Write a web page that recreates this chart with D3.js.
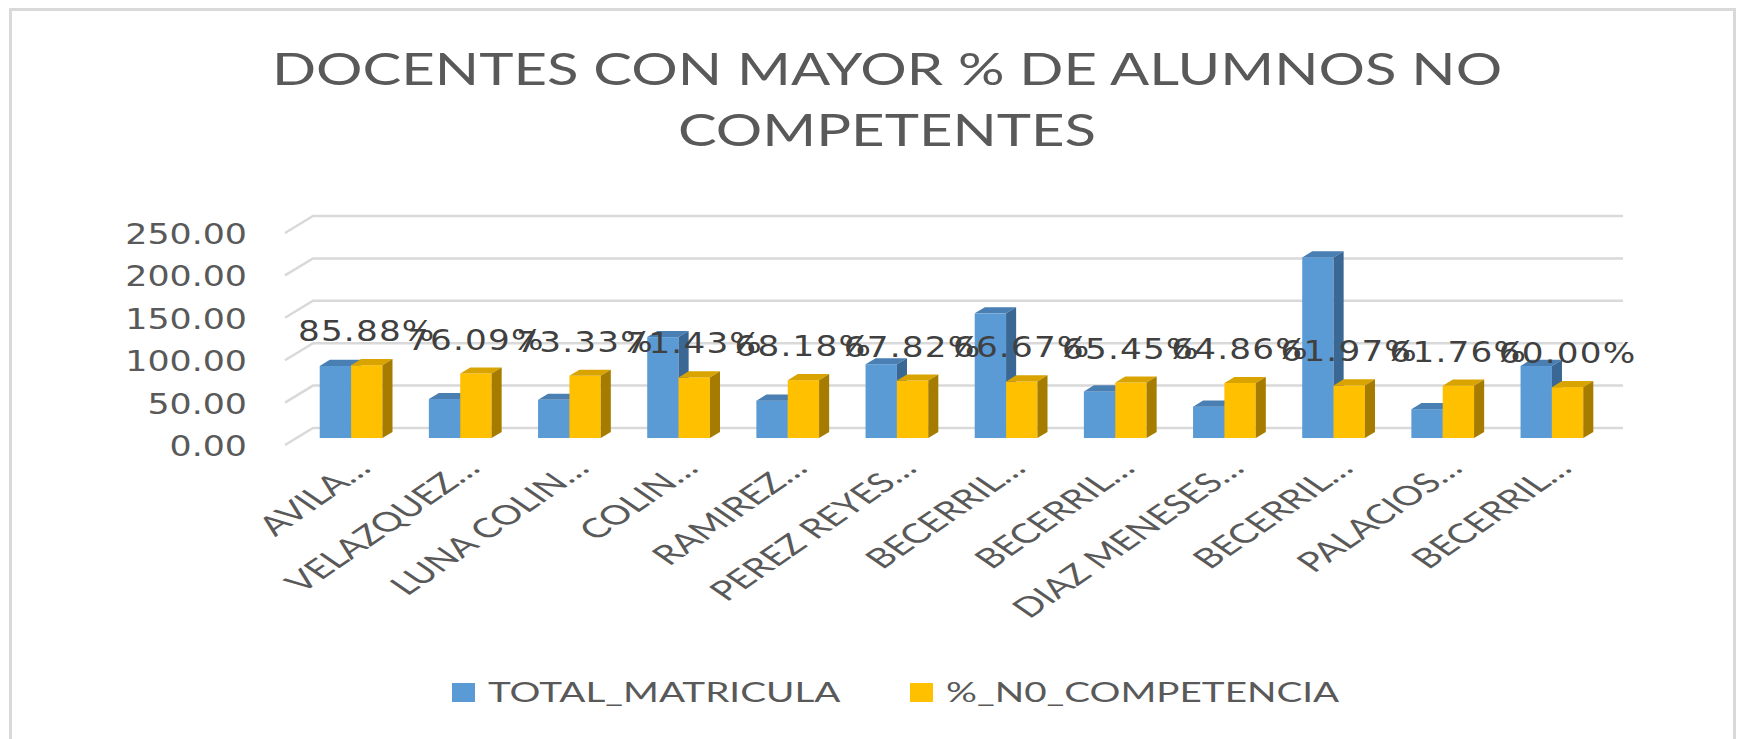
<!DOCTYPE html>
<html>
<head>
<meta charset="utf-8">
<script src="https://cdn.jsdelivr.net/npm/d3@7"></script>
<style>
    html, body { margin: 0; padding: 0; background: #fff; }
    svg { display: block; font-family: "DejaVu Sans", Verdana, sans-serif; }
    .word { font-family: Lato, "Open Sans", sans-serif; }
</style>
</head>
<body>
<svg id="chart" width="1743" height="739"></svg>
<script>
const categories = ["AVILA…", "VELAZQUEZ…", "LUNA COLIN…", "COLIN…", "RAMIREZ…", "PEREZ REYES…",
    "BECERRIL…", "BECERRIL… ", "DIAZ MENESES…", "BECERRIL…  ", "PALACIOS…", "BECERRIL…   "];
const totalMatricula = [85, 46, 45, 119, 44, 87, 147, 55, 37, 213, 34, 85];
const pctNoCompetencia = [85.88, 76.09, 73.33, 71.43, 68.18, 67.82, 66.67, 65.45, 64.86, 61.97, 61.76, 60.00];
const yTicks = [0, 50, 100, 150, 200, 250];
const seriesNames = ["TOTAL_MATRICULA", "%_N0_COMPETENCIA"];
const titleLines = ["DOCENTES CON MAYOR % DE ALUMNOS NO", "COMPETENTES"];

const colors = {
    blue: { front: "#5b9bd5", top: "#4a7fb3", side: "#3b6794" },
    gold: { front: "#ffc000", top: "#d9a300", side: "#a67c00" }
};
const seriesColors = [colors.blue, colors.gold];

// the original picture was stretched sideways, so text gets the same stretch
const SX_NUM = 1.2;     // numbers (wide face)
const SX_TITLE = 1.335;
const SX_LEGEND = 1.385;
const SX_CAT = 1.45;    // also bends the -45deg labels to about 34deg, like the source
const depth = { dx: 28, dy: -17 };   // floor depth of the 3d box
const barZ = 0.41, barD = 0.36;      // where the bars sit in depth, and how deep they are
const groupWidth = 62.7;

const svg = d3.select("#chart");

svg.append("rect")
    .attr("x", 10.5).attr("y", 9.5)
    .attr("width", 1724).attr("height", 800)
    .attr("fill", "none")
    .attr("stroke", "#d9d9d9")
    .attr("stroke-width", 3);

const xScale = d3.scaleBand()
    .domain(categories)
    .range([285, 1595]);

const yScale = d3.scaleLinear()
    .domain([0, 250])
    .range([445, 233]);

const xSeries = d3.scaleBand()
    .domain(seriesNames)
    .range([0, groupWidth]);

// title
svg.append("g")
    .selectAll("g")
    .data(titleLines)
    .join("g")
    .attr("transform", (d, i) => `translate(887,${85 + i * 61}) scale(${SX_TITLE},1)`)
    .append("text")
    .attr("class", "word")
    .attr("text-anchor", "middle")
    .attr("font-size", 43.5)
    .attr("fill", "#595959")
    .text(d => d);

// gridlines on the back wall plus the slanted side wall
const xLeft = xScale.range()[0], xRight = xScale.range()[1];
svg.append("g")
    .selectAll("path")
    .data(yTicks)
    .join("path")
    .attr("d", t => `M${xLeft},${yScale(t)}L${xLeft + depth.dx},${yScale(t) + depth.dy}H${xRight + depth.dx}`)
    .attr("fill", "none")
    .attr("stroke", "#d9d9d9")
    .attr("stroke-width", 2.5);

// y axis
const yAxis = svg.append("g")
    .attr("transform", "translate(247,0)")
    .call(d3.axisLeft(yScale).tickValues(yTicks).tickFormat(d3.format(".2f")).tickSize(0).tickPadding(0));
yAxis.select(".domain").remove();
yAxis.selectAll("text")
    .attr("x", 0)
    .attr("dy", "0.36em")
    .attr("transform", `scale(${SX_NUM},1)`)
    .attr("font-size", 29)
    .attr("font-family", "DejaVu Sans, Verdana, sans-serif")
    .attr("fill", "#595959");

// 3d bars
const rows = categories.map((c, i) => ({ cat: c, values: [totalMatricula[i], pctNoCompetencia[i]] }));
const ddx = barD * depth.dx, ddy = barD * depth.dy;
const base = yScale(0) + barZ * depth.dy;

function barGeom(row, s) {
    const x0 = xScale(row.cat) + (xScale.bandwidth() - groupWidth) / 2 + xSeries(seriesNames[s]) + barZ * depth.dx;
    const top = yScale(row.values[s]) + barZ * depth.dy;
    return { x0, top, w: xSeries.bandwidth() };
}

const barG = svg.append("g");
rows.forEach(row => {
    [0, 1].forEach(s => {
        const { x0, top, w } = barGeom(row, s);
        const c = seriesColors[s];
        barG.append("rect")
            .attr("x", x0).attr("y", top)
            .attr("width", w).attr("height", base - top)
            .attr("fill", c.front);
        barG.append("path")
            .attr("d", `M${x0},${top}L${x0 + w},${top}L${x0 + w + ddx},${top + ddy}L${x0 + ddx},${top + ddy}Z`)
            .attr("fill", c.top);
        barG.append("path")
            .attr("d", `M${x0 + w},${top}L${x0 + w + ddx},${top + ddy}L${x0 + w + ddx},${base + ddy}L${x0 + w},${base}Z`)
            .attr("fill", c.side);
    });
});

// data labels (percent series)
svg.append("g")
    .selectAll("g")
    .data(rows)
    .join("g")
    .attr("transform", d => {
        const g = barGeom(d, 1);
        return `translate(${g.x0 + g.w / 2},${g.top - 24}) scale(${SX_NUM},1)`;
    })
    .append("text")
    .attr("text-anchor", "middle")
    .attr("font-size", 28.5)
    .attr("letter-spacing", 1)
    .attr("fill", "#404040")
    .text(d => d3.format(".2f")(d.values[1]) + "%");

// category labels
svg.append("g")
    .selectAll("g")
    .data(categories)
    .join("g")
    .attr("transform", d => `translate(${xScale(d) + xScale.bandwidth() / 2 + 33},470) scale(${SX_CAT},1) rotate(-45)`)
    .append("text")
    .attr("class", "word")
    .attr("text-anchor", "end")
    .attr("font-size", 27)
    .attr("fill", "#595959")
    .text(d => d.trim());

// legend
const legendX = [452, 910];
const legend = svg.append("g")
    .selectAll("g")
    .data(seriesNames)
    .join("g")
    .attr("transform", (d, i) => `translate(${legendX[i]},0)`);
legend.append("rect")
    .attr("x", 0).attr("y", 683)
    .attr("width", 23).attr("height", 19)
    .attr("fill", (d, i) => seriesColors[i].front);
legend.append("g")
    .attr("transform", `translate(36,702) scale(${SX_LEGEND},1)`)
    .append("text")
    .attr("class", "word")
    .attr("font-size", 27.9)
    .attr("fill", "#595959")
    .text(d => d);
</script>
</body>
</html>
